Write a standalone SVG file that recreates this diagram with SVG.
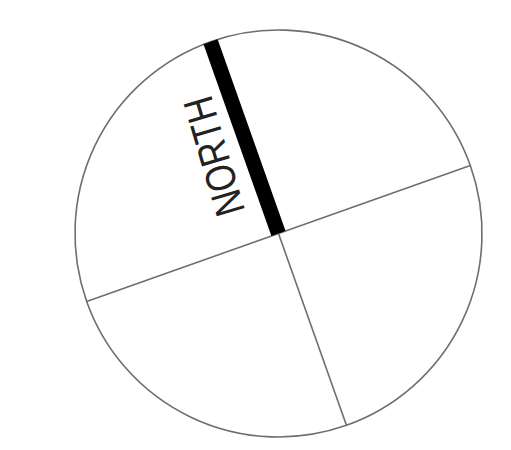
<svg xmlns="http://www.w3.org/2000/svg" width="511" height="450" viewBox="0 0 511 450">
<style>
.thin{fill:none;stroke:#6e6e6e;stroke-width:1.6}
.north{stroke:#000;stroke-width:15;stroke-linecap:butt}
.lbl{font-family:"Liberation Sans",Arial,sans-serif;font-size:42px;fill:#222}
</style>
<rect width="511" height="450" fill="#fff"/>
<g id="compass" transform="rotate(-19.5 278.5 233.5)">
<circle class="thin" cx="278.5" cy="233.5" r="203.5"/>
<g id="connectors">
<line class="thin" x1="278.5" y1="30" x2="278.5" y2="437"/>
<line class="thin" x1="75" y1="233.5" x2="482" y2="233.5"/>
<line class="north" x1="278.5" y1="30" x2="278.5" y2="233.5"/>
</g>
<g id="label">
<text class="lbl" transform="translate(258 140) rotate(-87)" text-anchor="middle" textLength="122" lengthAdjust="spacingAndGlyphs">NORTH</text>
</g>
</g>
</svg>
